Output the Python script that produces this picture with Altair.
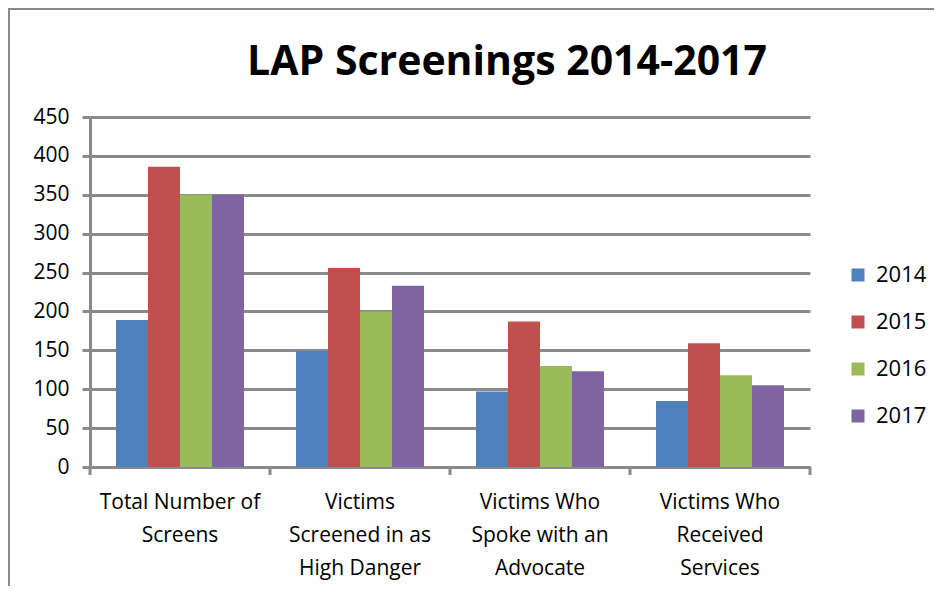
import json
import altair as alt
import pandas as pd

TITLE = "LAP Screenings 2014-2017"
categories = [
    "Total Number of Screens",
    "Victims Screened in as High Danger",
    "Victims Who Spoke with an Advocate",
    "Victims Who Received Services",
]
label_lines = [
    ["Total Number of", "Screens"],
    ["Victims", "Screened in as", "High Danger"],
    ["Victims Who", "Spoke with an", "Advocate"],
    ["Victims Who", "Received", "Services"],
]
years = ["2014", "2015", "2016", "2017"]
v2014 = [189, 149, 97, 85]
v2015 = [386, 256, 187, 159]
v2016 = [350, 200, 130, 118]
v2017 = [350, 233, 123, 105]
colors = ["#4F81BD", "#C0504D", "#9BBB59", "#8064A2"]
y_ticks = [0, 50, 100, 150, 200, 250, 300, 350, 400, 450]

FONT = "Open Sans"
GRAY = "#8a8a8a"
W, H = 720, 350

series = [v2014, v2015, v2016, v2017]
rows = []
for ci, c in enumerate(categories):
    for yi, yr in enumerate(years):
        rows.append({"category": c, "year": yr, "value": series[yi][ci]})
df = pd.DataFrame(rows)
df_cat = pd.DataFrame({"category": categories})

mapping = json.dumps(dict(zip(categories, label_lines)))
label_expr = mapping + "[datum.label]"

bars = alt.Chart(df).mark_bar().encode(
    x=alt.X(
        "category:N",
        sort=categories,
        scale=alt.Scale(paddingInner=0, paddingOuter=0),
        axis=alt.Axis(
            title=None, labelAngle=0, labelExpr=label_expr, ticks=False, grid=False,
            domainColor=GRAY, domainWidth=3, labelFontSize=21, labelFont=FONT,
            labelColor="black", labelPadding=24, labelLineHeight=33, labelLimit=300,
        ),
    ),
    xOffset=alt.XOffset(
        "year:N", sort=years, scale=alt.Scale(paddingOuter=0.8125, paddingInner=0)
    ),
    y=alt.Y(
        "value:Q",
        scale=alt.Scale(domain=[0, 450], nice=False),
        axis=alt.Axis(
            values=y_ticks, title=None, grid=True, gridColor=GRAY, gridWidth=3,
            tickSize=8, tickWidth=3, tickColor=GRAY, domainColor=GRAY, domainWidth=3,
            labelFontSize=21, labelFont=FONT, labelColor="black", labelPadding=13,
        ),
    ),
    color=alt.Color(
        "year:N",
        sort=years,
        scale=alt.Scale(domain=years, range=colors),
        legend=alt.Legend(
            title=None, orient="none", legendX=757, legendY=147, symbolType="square",
            symbolSize=169, symbolStrokeWidth=0, labelFontSize=22, labelFont=FONT,
            labelColor="black", rowPadding=25, labelOffset=7,
        ),
    ),
)

ticks = alt.Chart(df_cat).mark_rule(color=GRAY, strokeWidth=3).encode(
    x=alt.X("category:N", sort=categories, bandPosition=0),
    y=alt.value(H),
    y2=alt.value(H + 8),
)
last_tick = alt.Chart(alt.Data(values=[{}])).mark_rule(color=GRAY, strokeWidth=3).encode(
    x=alt.value(W), y=alt.value(H), y2=alt.value(H + 8)
)

title = alt.Chart(alt.Data(values=[{}])).mark_text(
    font=FONT, fontSize=41, fontWeight="bold", align="center", baseline="alphabetic",
    color="black",
).encode(x=alt.value(417), y=alt.value(-42), text=alt.value(TITLE))

border = alt.Chart(alt.Data(values=[{}])).mark_rect(
    fillOpacity=0, stroke=GRAY, strokeWidth=2
).encode(x=alt.value(-81), x2=alt.value(2000), y=alt.value(-108), y2=alt.value(2000))

chart = alt.layer(border, bars, ticks, last_tick, title).properties(
    width=W,
    height=H,
    autosize=alt.AutoSizeParams(type="none"),
    padding={"left": 82, "top": 109, "right": 124, "bottom": 119},
).configure_view(stroke=None)

chart.save("out.html", embed_options={"renderer": "svg", "actions": False})
